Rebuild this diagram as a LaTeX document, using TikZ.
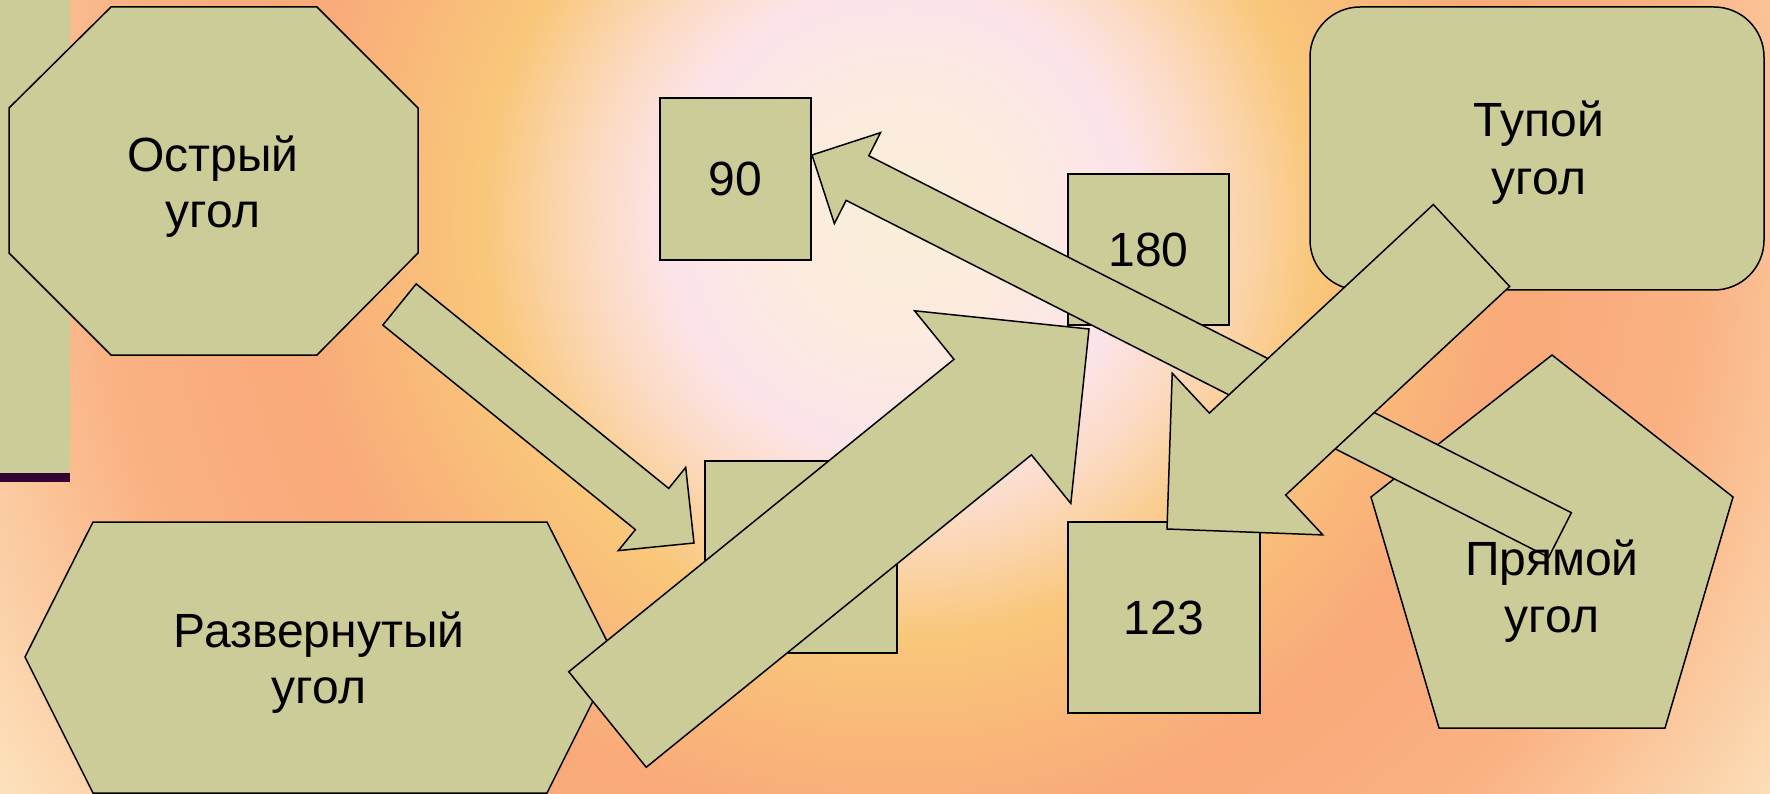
\documentclass[tikz,border=0pt]{standalone}
\usepackage{fontspec}
\setmainfont{Liberation Sans}
\usetikzlibrary{calc}
\definecolor{shapefill}{HTML}{CCCC99}
\definecolor{barcol}{HTML}{330033}
\definecolor{bgA}{HTML}{FBEFD8}
\definecolor{bgB}{HTML}{FCEBDF}
\definecolor{bgC}{HTML}{FCE4EA}
\definecolor{bgD}{HTML}{FCDCC8}
\definecolor{bgE}{HTML}{F9C77A}
\definecolor{bgF}{HTML}{F9A97A}
\definecolor{bgG}{HTML}{FAB283}
\definecolor{bgH}{HTML}{FCE0BA}
\pgfdeclareradialshading{bgshade}{\pgfpoint{0bp}{0bp}}{color(0bp)=(bgA); color(2.7bp)=(bgB); color(5.2bp)=(bgC); color(6.8bp)=(bgD); color(9.5bp)=(bgE); color(14.1bp)=(bgF); color(18.2bp)=(bgG); color(23.9bp)=(bgH); color(50bp)=(bgH)}
\tikzset{
  shp/.style={draw=black, fill=shapefill, line width=1.5pt, line join=miter},
  box/.style={shp, inner sep=0pt, font=\fontsize{48}{56}\selectfont},
  lbl/.style={anchor=base, inner sep=0pt, font=\fontsize{48}{56}\selectfont},
}
% #1 tail, #2 tip, #3 shaft half width, #4 head half width, #5 head length
\newcommand{\blockarrow}[5]{%
  \coordinate (#1-neck) at ($(#2)!#5!(#1)$);
  \draw[shp] ($(#1)!#3!90:(#2)$) -- ($(#1-neck)!#3!-90:(#1)$) -- ($(#1-neck)!#4!-90:(#1)$)
    -- (#2) -- ($(#1-neck)!#4!90:(#1)$) -- ($(#1-neck)!#3!90:(#1)$) -- ($(#1)!#3!-90:(#2)$) -- cycle;
}
\begin{document}
\begin{tikzpicture}[x=1pt,y=-1pt]
\useasboundingbox (0,0) rectangle (1770,794);
\begin{scope}
  \clip (0,0) rectangle (1770,794);
  \shade[shading=bgshade] (900,220) circle (1100pt);
\end{scope}
% left strip
\fill[shapefill] (0,0) rectangle (70,473);
\fill[barcol] (0,473) rectangle (70,482);
% octagon
\draw[shp] (111,7) -- (317,7) -- (418,108) -- (418,253) -- (317,355) -- (111,355) -- (9,253) -- (9,108) -- cycle;
\node[lbl] (ostr1) at (213,172) {Острый};
\node[lbl] (ostr2) at (213,228) {угол};
% hexagon
\draw[shp] (93,522) -- (547,522) -- (615,657) -- (547,793) -- (93,793) -- (25,657) -- cycle;
\node[lbl] (razv1) at (319,647) {Развернутый};
\node[lbl] (razv2) at (319,703) {угол};
% boxes
\node[box, minimum width=151pt, minimum height=162pt] (b90) at (735.5,179) {90};
\node[box, minimum width=161pt, minimum height=151pt] (b180) at (1148.5,249.5) {180};
\node[box, minimum width=192pt, minimum height=191pt] (b123) at (1164,617.5) {123};
\node[box, minimum width=192pt, minimum height=192pt] (bq) at (801,557) {};
% rounded rectangle
\node[box, rounded corners=50pt, minimum width=454pt, minimum height=283pt] (tup) at (1537,148.5) {};
\node[lbl] (tup1) at (1539,137) {Тупой};
\node[lbl] (tup2) at (1539,195) {угол};
% pentagon
\draw[shp] (1552,355) -- (1733,497) -- (1665,728) -- (1439,728) -- (1371,497) -- cycle;
% arrows
\coordinate (aT) at (399.5,304.5); \coordinate (aH) at (694,543);
\blockarrow{aT}{aH}{26.5pt}{53.5pt}{54pt}
\coordinate (bT) at (607.5,719.5); \coordinate (bH) at (1089,329);
\blockarrow{bT}{bH}{61.5pt}{124pt}{124pt}
\coordinate (cT) at (1560,535); \coordinate (cH) at (812,155);
\blockarrow{cT}{cH}{25pt}{51pt}{51pt}
\coordinate (dT) at (1471.5,245.5); \coordinate (dH) at (1167,529);
\blockarrow{dT}{dH}{56pt}{110.5pt}{110pt}
% pentagon text
\node[lbl] (pr1) at (1552,575) {Прямой};
\node[lbl] (pr2) at (1552,632) {угол};
\end{tikzpicture}
\end{document}
